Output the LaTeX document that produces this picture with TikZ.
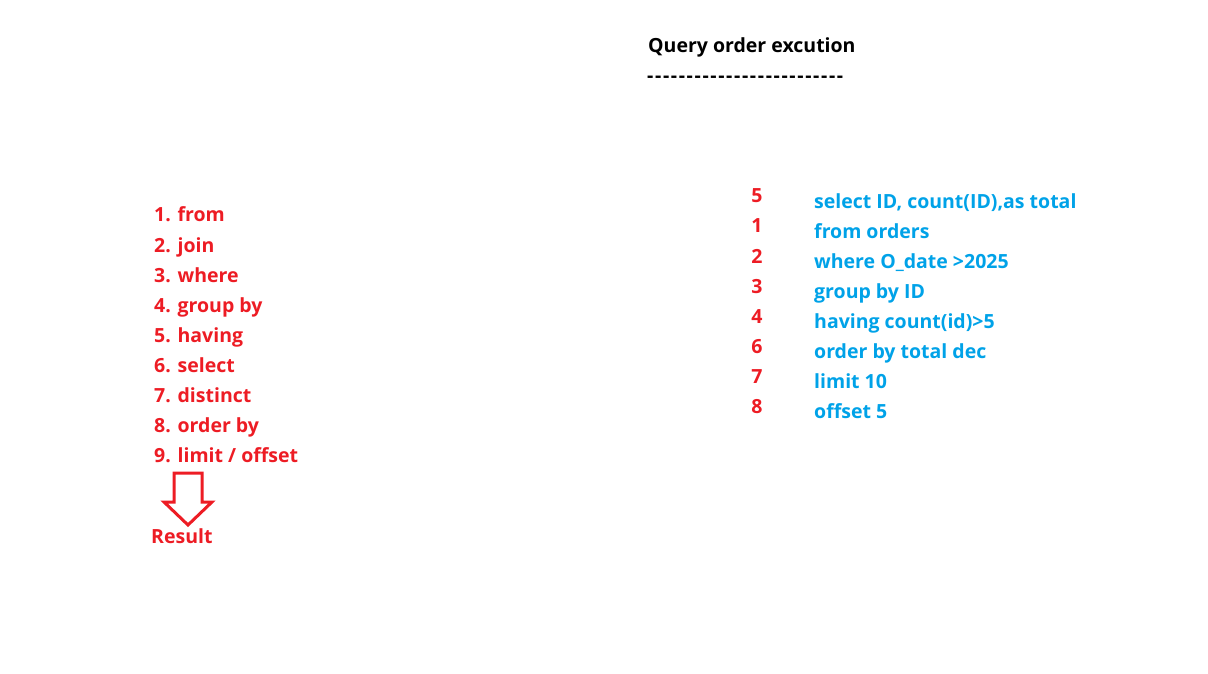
\documentclass[tikz,border=0pt]{standalone}
\usepackage{fontspec}
\setmainfont{Open Sans}[BoldFont={* Bold}]
\usepackage{xcolor}
\definecolor{stepred}{HTML}{ED1C24}
\definecolor{sqlblue}{HTML}{00A2E8}
\newcommand\dsh{\makebox[7.9pt][l]{-}}

\tikzset{
  lbl/.style={anchor=base west, inner sep=0pt, font=\fontsize{19.5}{19.5}\selectfont\bfseries},
  orderitem/.style={lbl, text=stepred},
  sqlline/.style={lbl, text=sqlblue},
  sqlnum/.style={anchor=base, inner sep=0pt, text=stepred,
    font=\fontsize{19.5}{19.5}\selectfont\bfseries},
}

\begin{document}
\begin{tikzpicture}[x=1pt,y=-1pt]
  % page frame, 1208 x 674 px
  \useasboundingbox (0,0) rectangle (1208,674);
  % title and its dashes
  \node[lbl] (title) at (648,53) {Query order excution};
  \node[lbl] (dashes) at (647,83) {\dsh\dsh\dsh\dsh\dsh\dsh\dsh\dsh\dsh\dsh\dsh\dsh\dsh\dsh\dsh\dsh\dsh\dsh\dsh\dsh\dsh\dsh\dsh\dsh\dsh};
  % execution order (left list)
  \node[orderitem] (o1) at (154,222) {1. from};
  \node[orderitem] (o2) at (154,252) {2. join};
  \node[orderitem] (o3) at (154,282) {3. where};
  \node[orderitem] (o4) at (154,312) {4. group by};
  \node[orderitem] (o5) at (154,342) {5. having};
  \node[orderitem] (o6) at (154,372) {6. select};
  \node[orderitem] (o7) at (154,402) {7. distinct};
  \node[orderitem] (o8) at (154,432) {8. order by};
  \node[orderitem] (o9) at (154,462) {9. limit / offset};
  % hollow down arrow to the result
  \draw[stepred, line width=3pt, line join=miter]
    (174,473) -- (202,473) -- (202,502) -- (212,502) -- (188,525)
    -- (164,502) -- (174,502) -- cycle;
  \node[orderitem] (result) at (151,543) {Result};
  % sample query with step numbers
  \node[sqlnum] (n5) at (757,203) {5};
  \node[sqlnum] (n1) at (757,233) {1};
  \node[sqlnum] (n2) at (757,263) {2};
  \node[sqlnum] (n3) at (757,293) {3};
  \node[sqlnum] (n4) at (757,323) {4};
  \node[sqlnum] (n6) at (757,353) {6};
  \node[sqlnum] (n7) at (757,383) {7};
  \node[sqlnum] (n8) at (757,413) {8};
  \node[sqlline] (q1) at (814,208) {select ID, count(ID),as total};
  \node[sqlline] (q2) at (814,238) {from orders};
  \node[sqlline] (q3) at (814,268) {where O\_date >2025};
  \node[sqlline] (q4) at (814,298) {group by ID};
  \node[sqlline] (q5) at (814,328) {having count(id)>5};
  \node[sqlline] (q6) at (814,358) {order by total dec};
  \node[sqlline] (q7) at (814,388) {limit 10};
  \node[sqlline] (q8) at (814,418) {offset 5};
\end{tikzpicture}
\end{document}
